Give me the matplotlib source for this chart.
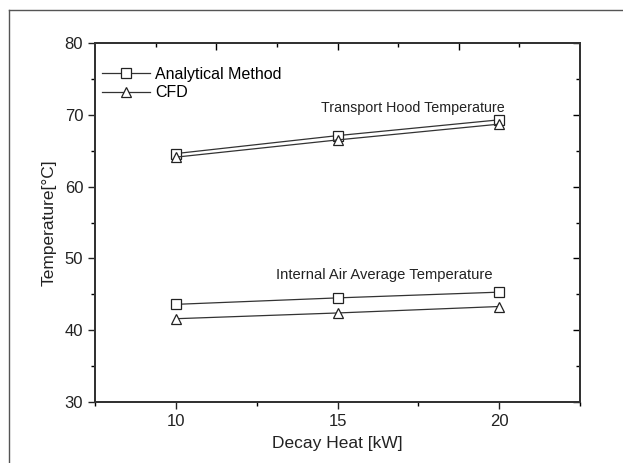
import matplotlib
matplotlib.use("Agg")
import matplotlib.pyplot as plt
from matplotlib.ticker import MultipleLocator, FixedLocator
from matplotlib.lines import Line2D

plt.rcParams['font.family'] = ['Liberation Sans', 'DejaVu Sans']

decay_heat = [10, 15, 20]
hood_analytical = [64.6, 67.1, 69.3]
hood_cfd = [64.1, 66.5, 68.7]
air_analytical = [43.6, 44.5, 45.3]
air_cfd = [41.6, 42.4, 43.3]
series_labels = ["Analytical Method", "CFD"]
annot_hood = "Transport Hood Temperature"
annot_air = "Internal Air Average Temperature"

fig = plt.figure(figsize=(6.23, 4.63), dpi=100)
ax = fig.add_axes([95/623, 1-402/463, (580-95)/623, (402-43)/463])

lc = '#333333'
mk = dict(markerfacecolor='white', markeredgecolor='#222222', markeredgewidth=0.9)
l1, = ax.plot(decay_heat, hood_analytical, color=lc, lw=0.9, marker='s', markersize=6.5, **mk)
l2, = ax.plot(decay_heat, hood_cfd, color=lc, lw=0.9, marker='^', markersize=7.5, **mk)
ax.plot(decay_heat, air_analytical, color=lc, lw=0.9, marker='s', markersize=6.5, **mk)
ax.plot(decay_heat, air_cfd, color=lc, lw=0.9, marker='^', markersize=7.5, **mk)

ax.set_xlim(7.5, 22.5)
ax.set_ylim(30, 80)
ax.xaxis.set_major_locator(FixedLocator([10, 15, 20]))
ax.xaxis.set_minor_locator(FixedLocator([7.5, 12.5, 17.5, 22.5]))
ax.yaxis.set_major_locator(MultipleLocator(10))
ax.yaxis.set_minor_locator(MultipleLocator(5))
ax.tick_params(axis='both', which='major', direction='out', length=5, width=1, labelsize=12, colors='#222222')
ax.tick_params(axis='both', which='minor', direction='out', length=3, width=1)

for sp in ax.spines.values():
    sp.set_linewidth(1.3)
    sp.set_color('#333333')

# inward ticks on right side
ax_r = ax.twinx()
ax_r.set_ylim(ax.get_ylim())
ax_r.yaxis.set_major_locator(MultipleLocator(10))
ax_r.yaxis.set_minor_locator(MultipleLocator(5))
ax_r.tick_params(axis='y', which='major', direction='in', length=5, width=1, labelright=False)
ax_r.tick_params(axis='y', which='minor', direction='in', length=3, width=1)
# top axis (independent scale) inward ticks
ax_t = ax.twiny()
ax_t.set_xlim(0, 8)
ax_t.xaxis.set_major_locator(FixedLocator([2, 4, 6]))
ax_t.xaxis.set_minor_locator(FixedLocator([1, 3, 5, 7]))
ax_t.tick_params(axis='x', which='major', direction='in', length=5, width=1, labeltop=False)
ax_t.tick_params(axis='x', which='minor', direction='in', length=3, width=1)
for a in (ax_r, ax_t):
    for sp in a.spines.values():
        sp.set_linewidth(1.3)
        sp.set_color('#333333')

ax.set_xlabel("Decay Heat [kW]", fontsize=12.5, labelpad=5, color='#222222')
ax.set_ylabel("Temperature[°C]", fontsize=12.5, labelpad=6, color='#222222')

ax.text(14.5, 71.0, annot_hood, fontsize=10.3, va='center', ha='left', color='#222222')
ax.text(13.1, 47.7, annot_air, fontsize=10.6, va='center', ha='left', color='#222222')

leg = ax.legend([l1, l2], series_labels, loc='upper left', bbox_to_anchor=(0.015, 0.933),
                frameon=False, fontsize=11.5, handlelength=3.0, handletextpad=0.3,
                labelspacing=0.2, borderaxespad=0.0, borderpad=0.0)

# figure border (extends beyond right/bottom edges)
fig.add_artist(Line2D([9/623, 9/623], [0, 1-10/463], transform=fig.transFigure, color='#555555', lw=1))
fig.add_artist(Line2D([9/623, 1], [1-10/463, 1-10/463], transform=fig.transFigure, color='#555555', lw=1))

fig.savefig("out.png", dpi=100)
